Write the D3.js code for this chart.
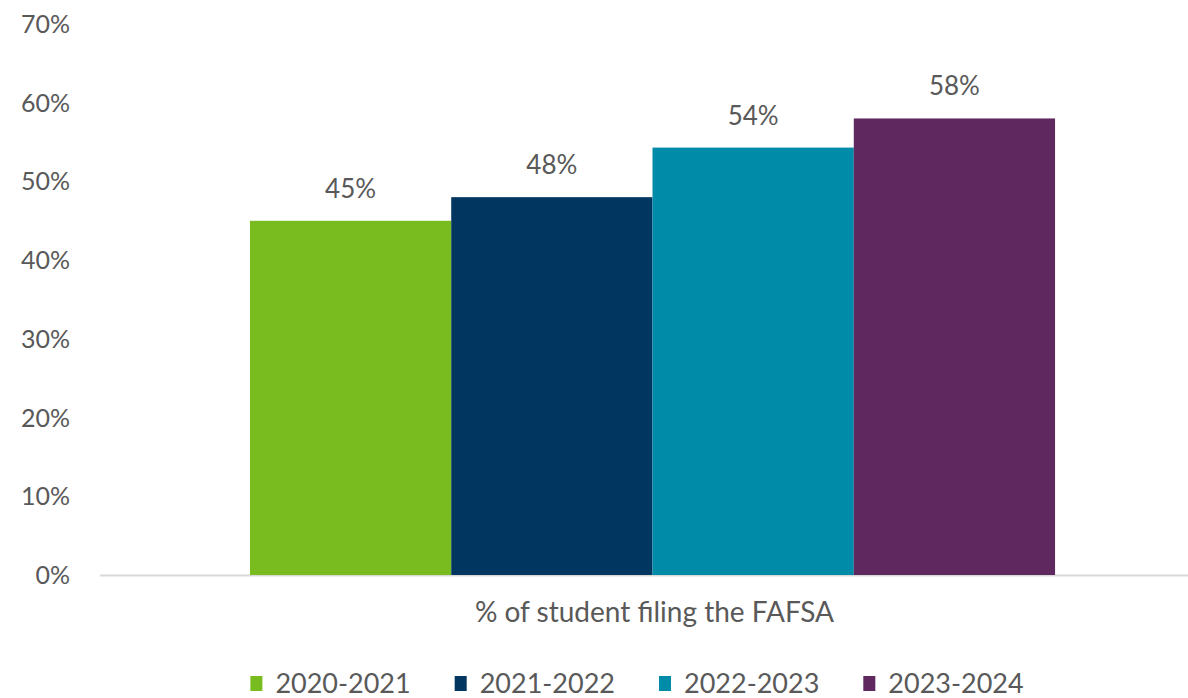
<!DOCTYPE html>
<html lang="en">
<head>
    <meta charset="UTF-8">
    <title>FAFSA filing</title>
    <script src="https://d3js.org/d3.v7.min.js"></script>
    <style>
        body { margin: 0; background: #fff; }
        text { font-family: Lato, "Open Sans", sans-serif; fill: #595959; }
    </style>
</head>
<body>
<script>

    var category = "% of student filing the FAFSA"
    var years = ["2020-2021", "2021-2022", "2022-2023", "2023-2024"]
    var values = [0.45, 0.48, 0.543, 0.58]
    var labels = ["45%", "48%", "54%", "58%"]
    var colors = ["#78bc20", "#003660", "#008ca8", "#5f285f"]
    var ticks = [0, 0.1, 0.2, 0.3, 0.4, 0.5, 0.6, 0.7]

    var width = 1188
    var height = 698
    var fontSize = 25

    var svg = d3.select("body").append("svg")
        .attr("width", width)
        .attr("height", height)

    var y = d3.scaleLinear()
        .domain([0, 0.7])
        .range([575, 24])

    var xGroup = d3.scaleBand()
        .domain([category])
        .range([100, 1205])
        .padding(0.157)

    var xBar = d3.scaleBand()
        .domain(years)
        .range([0, xGroup.bandwidth()])

    // y axis labels
    svg.selectAll(".ytick")
        .data(ticks)
        .enter().append("text")
        .attr("class", "ytick")
        .attr("x", 70)
        .attr("y", function (d) { return y(d) })
        .attr("dy", "0.36em")
        .attr("text-anchor", "end")
        .attr("font-size", fontSize)
        .text(d3.format(".0%"))

    // baseline
    svg.append("line")
        .attr("x1", 100)
        .attr("x2", width)
        .attr("y1", y(0) + 0.5)
        .attr("y2", y(0) + 0.5)
        .attr("stroke", "#d9d9d9")
        .attr("stroke-width", 2)

    var g = svg.append("g")
        .attr("transform", "translate(" + xGroup(category) + ",0)")

    g.selectAll("rect")
        .data(values)
        .enter().append("rect")
        .attr("x", function (d, i) { return xBar(years[i]) })
        .attr("y", function (d) { return y(d) })
        .attr("width", xBar.bandwidth())
        .attr("height", function (d) { return y(0) - y(d) })
        .attr("fill", function (d, i) { return colors[i] })

    g.selectAll(".vlabel")
        .data(values)
        .enter().append("text")
        .attr("class", "vlabel")
        .attr("x", function (d, i) { return xBar(years[i]) + xBar.bandwidth() / 2 })
        .attr("y", function (d) { return y(d) - 23 })
        .attr("text-anchor", "middle")
        .attr("font-size", fontSize + 1)
        .text(function (d, i) { return labels[i] })

    // category label
    svg.append("text")
        .attr("x", xGroup(category) + xGroup.bandwidth() / 2 + 2)
        .attr("y", 622)
        .attr("text-anchor", "middle")
        .attr("font-size", 28)
        .text(category)

    // legend
    var legend = svg.append("g")
    var lx = 0
    years.forEach(function (yr, i) {
        var item = legend.append("g").attr("transform", "translate(" + lx + ",0)")
        item.append("rect")
            .attr("x", 0)
            .attr("y", -7)
            .attr("width", 12)
            .attr("height", 15)
            .attr("fill", colors[i])
        var t = item.append("text")
            .attr("x", 25)
            .attr("dy", "0.36em")
            .attr("font-size", 27)
            .text(yr)
        lx += 25 + t.node().getComputedTextLength() + 44
    })
    var lw = lx - 44
    legend.attr("transform", "translate(" + (637 - lw / 2) + ",683)")

</script>
</body>
</html>
